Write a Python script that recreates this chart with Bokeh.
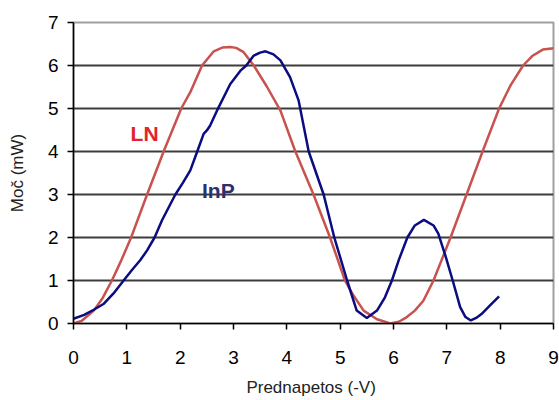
from bokeh.plotting import figure
from bokeh.models import Range1d, FixedTicker
from bokeh.embed import file_html
from bokeh.resources import INLINE
from bokeh.core.properties import value

# LN curve
ln_x = [0, 0.15, 0.38, 0.55, 0.72, 0.9, 1.08, 1.23, 1.38, 1.69, 2.02, 2.19, 2.41,
        2.63, 2.8, 2.94, 3.05, 3.19, 3.38, 3.63, 3.88, 4.16, 4.5, 4.81, 5.09,
        5.25, 5.44, 5.69, 5.94, 6.1, 6.25, 6.4, 6.56, 6.75, 7.07, 7.37, 7.67,
        7.98, 8.2, 8.43, 8.6, 8.8, 9.0]
ln_y = [0, 0.06, 0.3, 0.6, 1.0, 1.48, 2.0, 2.5, 3.0, 4.0, 5.0, 5.38, 6.0,
        6.33, 6.42, 6.43, 6.41, 6.31, 6.0, 5.5, 4.95, 4.0, 3.0, 2.0, 1.0,
        0.65, 0.3, 0.1, 0.0, 0.04, 0.15, 0.3, 0.53, 1.0, 2.0, 3.0, 4.0,
        5.0, 5.55, 6.0, 6.22, 6.37, 6.4]

# InP curve
inp_x = [0, 0.2, 0.38, 0.57, 0.75, 0.94, 1.1, 1.25, 1.38, 1.52, 1.66, 1.91, 2.05,
         2.19, 2.32, 2.44, 2.5, 2.56, 2.69, 2.94, 3.13, 3.24, 3.38, 3.5, 3.6,
         3.75, 3.88, 4.06, 4.22, 4.41, 4.69, 4.89, 5.13, 5.31, 5.5, 5.69, 5.84,
         5.97, 6.1, 6.26, 6.4, 6.57, 6.75, 6.84, 6.98, 7.11, 7.25, 7.35, 7.45,
         7.55, 7.65, 7.81, 7.98]
inp_y = [0.11, 0.2, 0.32, 0.46, 0.7, 1.0, 1.25, 1.47, 1.7, 2.0, 2.4, 3.0, 3.27,
         3.56, 4.0, 4.41, 4.49, 4.6, 4.95, 5.57, 5.88, 6.0, 6.23, 6.3, 6.33,
         6.26, 6.12, 5.73, 5.19, 4.0, 3.0, 2.0, 1.0, 0.3, 0.13, 0.3, 0.61,
         1.0, 1.48, 2.0, 2.28, 2.41, 2.28, 2.09, 1.55, 1.0, 0.38, 0.15, 0.07,
         0.13, 0.22, 0.42, 0.63]

x_ticks = [0, 1, 2, 3, 4, 5, 6, 7, 8, 9]
y_ticks = [0, 1, 2, 3, 4, 5, 6, 7]
x_title = "Prednapetos  (-V)"
y_title = "Moč (mW)"

p = figure(width=559, height=400, output_backend="svg", toolbar_location=None,
           x_range=Range1d(0, 9), y_range=Range1d(0, 7),
           min_border_left=73, min_border_right=6, min_border_top=22, min_border_bottom=77)

p.outline_line_color = "#a0a0a0"
p.outline_line_width = 2

p.xgrid.grid_line_color = None
p.ygrid.ticker = FixedTicker(ticks=[1, 2, 3, 4, 5, 6])
p.ygrid.grid_line_color = "#3c3c3c"
p.ygrid.grid_line_width = 2

font = "Liberation Sans"
for ax in (p.xaxis[0], p.yaxis[0]):
    ax.axis_line_color = "black"
    ax.axis_line_width = 1.5
    ax.major_tick_line_color = "black"
    ax.major_tick_line_width = 1.5
    ax.major_tick_in = 0
    ax.major_tick_out = 6
    ax.minor_tick_line_color = None
    ax.major_label_text_font = font
    ax.major_label_text_font_size = "19px"
    ax.major_label_text_color = "black"
    ax.axis_label_text_font = font
    ax.axis_label_text_font_style = "normal"
    ax.axis_label_text_font_size = "17px"
    ax.axis_label_text_color = "#222222"

p.xaxis.ticker = FixedTicker(ticks=x_ticks)
p.yaxis.ticker = FixedTicker(ticks=y_ticks)
p.xaxis.major_label_standoff = 21
p.yaxis.major_label_standoff = 9
p.xaxis.axis_label = x_title
p.yaxis.axis_label = y_title
p.xaxis.axis_label_standoff = 11
p.yaxis.axis_label_standoff = 18

p.line(ln_x, ln_y, line_color="#c8524f", line_width=2.5)
p.line(inp_x, inp_y, line_color="#0c0c82", line_width=2.5)

p.text(x=[1.07], y=[4.42], text=["LN"], text_color="#e0232d",
       text_font=value(font), text_font_style="bold", text_font_size="21px",
       text_align="left", text_baseline="alphabetic")
p.text(x=[2.41], y=[3.09], text=["InP"], text_color="#2e2e70",
       text_font=value(font), text_font_style="bold", text_font_size="21px",
       text_align="left", text_baseline="alphabetic")

open("out.html", "w").write(file_html(p, INLINE))
